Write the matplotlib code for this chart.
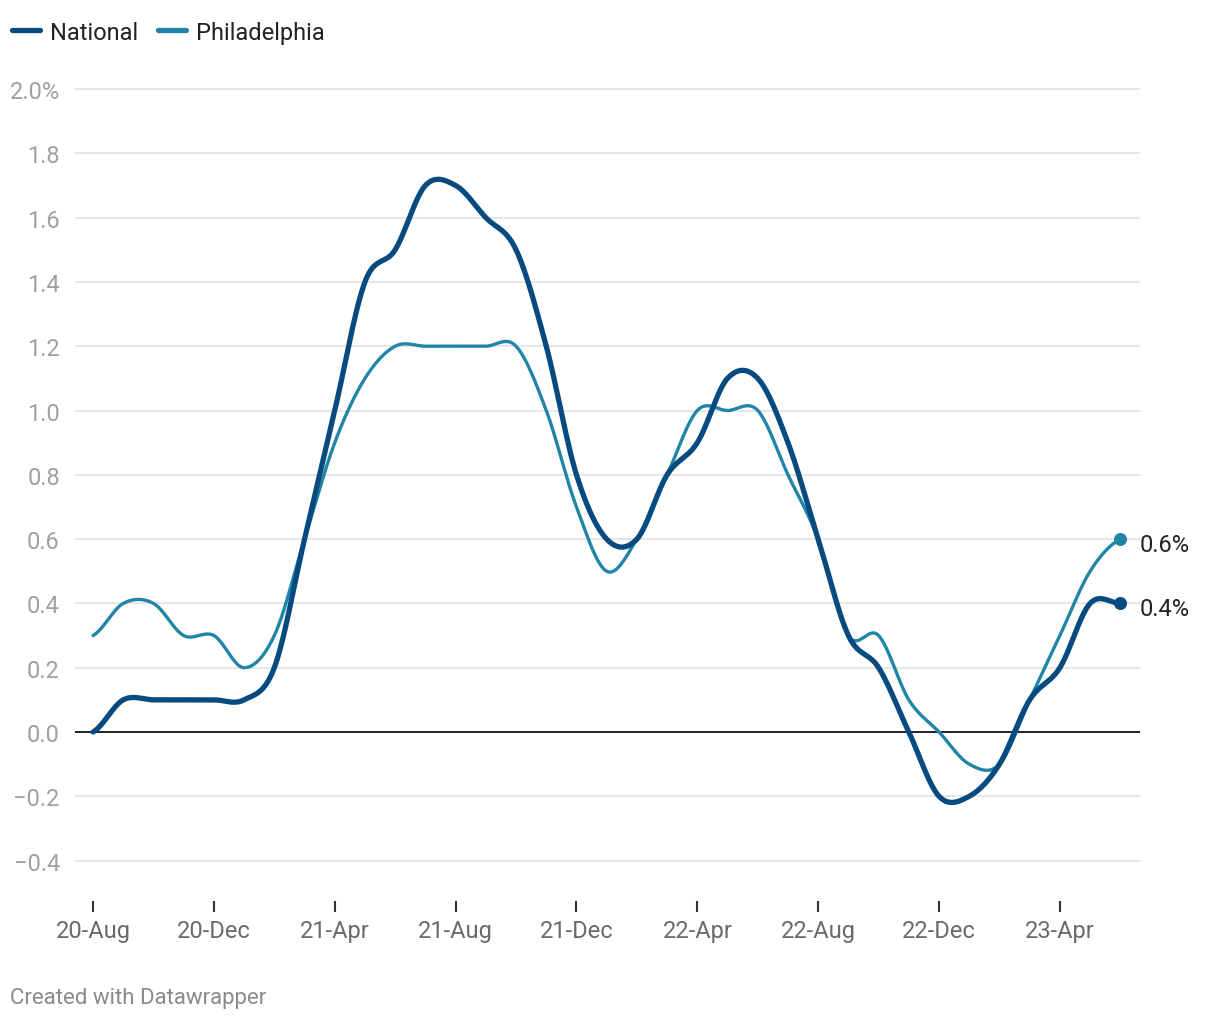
import matplotlib.pyplot as plt
from matplotlib.lines import Line2D
import numpy as np

plt.rcParams['font.family'] = ['Roboto', 'DejaVu Sans']

# monthly change, Aug 2020 - Jun 2023
months = ['20-Aug', '20-Sep', '20-Oct', '20-Nov', '20-Dec',
          '21-Jan', '21-Feb', '21-Mar', '21-Apr', '21-May', '21-Jun', '21-Jul',
          '21-Aug', '21-Sep', '21-Oct', '21-Nov', '21-Dec',
          '22-Jan', '22-Feb', '22-Mar', '22-Apr', '22-May', '22-Jun', '22-Jul',
          '22-Aug', '22-Sep', '22-Oct', '22-Nov', '22-Dec',
          '23-Jan', '23-Feb', '23-Mar', '23-Apr', '23-May', '23-Jun']
national = [0.0, 0.1, 0.1, 0.1, 0.1, 0.1, 0.2, 0.6, 1.0, 1.4, 1.5, 1.7,
            1.7, 1.6, 1.5, 1.2, 0.8, 0.6, 0.6, 0.8, 0.9, 1.1, 1.1, 0.9,
            0.6, 0.3, 0.2, 0.0, -0.2, -0.2, -0.1, 0.1, 0.2, 0.4, 0.4]
philadelphia = [0.3, 0.4, 0.4, 0.3, 0.3, 0.2, 0.3, 0.6, 0.9, 1.1, 1.2, 1.2,
                1.2, 1.2, 1.2, 1.0, 0.7, 0.5, 0.6, 0.8, 1.0, 1.0, 1.0, 0.8,
                0.6, 0.3, 0.3, 0.1, 0.0, -0.1, -0.1, 0.1, 0.3, 0.5, 0.6]
tick_months = ['20-Aug', '20-Dec', '21-Apr', '21-Aug', '21-Dec',
               '22-Apr', '22-Aug', '22-Dec', '23-Apr']
y_ticks = [-0.4, -0.2, 0.0, 0.2, 0.4, 0.6, 0.8, 1.0, 1.2, 1.4, 1.6, 1.8, 2.0]

NAT_COLOR = '#074a80'
PHL_COLOR = '#2085a6'
FS = 17


def curved(values, steps=24):
    # cardinal (catmull-rom) curve through the monthly points
    y = np.asarray(values, dtype=float)
    m = np.empty_like(y)
    m[1:-1] = (y[2:] - y[:-2]) / 2
    m[0] = (y[1] - y[0]) / 2
    m[-1] = (y[-1] - y[-2]) / 2
    t = np.linspace(0, 1, steps, endpoint=False)
    h00 = 2 * t**3 - 3 * t**2 + 1
    h10 = t**3 - 2 * t**2 + t
    h01 = -2 * t**3 + 3 * t**2
    h11 = t**3 - t**2
    xs, ys = [], []
    for i in range(len(y) - 1):
        xs.append(i + t)
        ys.append(h00 * y[i] + h10 * m[i] + h01 * y[i + 1] + h11 * m[i + 1])
    xs.append([len(y) - 1])
    ys.append([y[-1]])
    return np.concatenate(xs), np.concatenate(ys)


fig = plt.figure(figsize=(12.2, 10.2), dpi=100)
ax = fig.add_axes([0.0615, 0.1156, 0.8729, 0.8056])
ax.set_xlim(-0.596, 34.65)
ax.set_ylim(-0.526, 2.03)

for v in y_ticks:
    if v == 0:
        ax.axhline(v, color='#111111', lw=1.3, zorder=2)
    else:
        ax.axhline(v, color='#e2e2e2', lw=1.2, zorder=1)

x = np.arange(len(months))
xp, yp = curved(philadelphia)
ax.plot(xp, yp, color=PHL_COLOR, lw=2.4, solid_capstyle='round', zorder=3)
xn, yn = curved(national)
ax.plot(xn, yn, color=NAT_COLOR, lw=3.8, solid_capstyle='round', zorder=4)

ax.scatter([x[-1]], [philadelphia[-1]], s=70, color=PHL_COLOR, zorder=5, clip_on=False)
ax.scatter([x[-1]], [national[-1]], s=70, color=NAT_COLOR, zorder=5, clip_on=False)
# end labels, baseline ~12px below the dot
lab_off = 12 / 321.5
ax.text(34.65, philadelphia[-1] - lab_off, f'{philadelphia[-1]:.1f}%', va='baseline',
        ha='left', fontsize=FS, color='#222222')
ax.text(34.65, national[-1] - lab_off, f'{national[-1]:.1f}%', va='baseline',
        ha='left', fontsize=FS, color='#222222')

ax.set_yticks(y_ticks)
ylabels = [f'{v:.1f}'.replace('-', '\u2212') for v in y_ticks]
ylabels[-1] = ylabels[-1] + '%'
ax.set_yticklabels(ylabels)
ax.tick_params(axis='y', length=0, pad=11, labelsize=FS, labelcolor='#a0a0a0')

ax.set_xticks([months.index(m) for m in tick_months])
ax.set_xticklabels(tick_months)
ax.tick_params(axis='x', direction='out', length=8, width=1.5, color='#333333',
               pad=5, labelsize=FS, labelcolor='#6a6a6a')

for s in ax.spines.values():
    s.set_visible(False)

# legend
ly = 1 - 30.5 / 1020
tb = 1 - 40 / 1020
fig.add_artist(Line2D([12 / 1220, 40 / 1220], [ly, ly], color=NAT_COLOR, lw=3.8,
                      solid_capstyle='round'))
fig.text(50 / 1220, tb, 'National', fontsize=FS, color='#222222', va='baseline')
fig.add_artist(Line2D([158 / 1220, 186 / 1220], [ly, ly], color=PHL_COLOR, lw=3.8,
                      solid_capstyle='round'))
fig.text(196 / 1220, tb, 'Philadelphia', fontsize=FS, color='#222222', va='baseline')

fig.text(10 / 1220, 1 - 1004 / 1020, 'Created with Datawrapper', fontsize=16,
         color='#8a8a8a', va='baseline')

fig.savefig('out.png', dpi=100)
